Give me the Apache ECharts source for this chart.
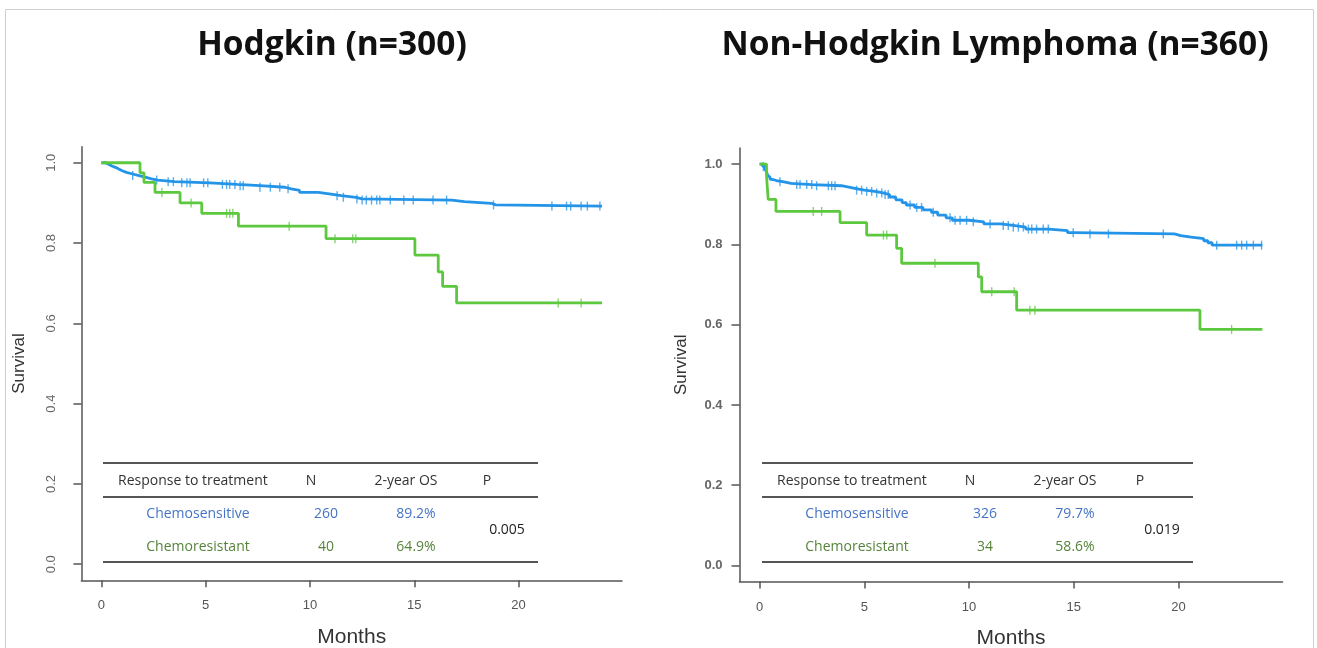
<!DOCTYPE html>
<html>
<head>
<meta charset="utf-8">
<script src="https://cdn.jsdelivr.net/npm/echarts@6/dist/echarts.min.js"></script>
<style>
html,body{margin:0;padding:0;background:#fff;}
#chart{width:1317px;height:648px;}
</style>
</head>
<body>
<div id="chart"></div>
<script>
// ---------- Data ----------
const xTicks = [0, 5, 10, 15, 20];
const yTicks = [0, 0.2, 0.4, 0.6, 0.8, 1.0];
const followUpEnd = 24;

// Hodgkin – chemosensitive (step times / survival after each drop)
const hlSensTime = [0, 0.2, 0.35, 0.5, 0.7, 0.85, 1.0, 1.2, 1.5, 1.8, 2.1, 2.4, 2.7, 3.5, 5.2, 6.5, 7.6, 8.8, 9.1, 9.5, 10.4, 11.0, 11.5, 12.2, 12.5, 16.8, 17.4, 18.7, 18.9];
const hlSensSurv = [1.0, 0.996, 0.992, 0.988, 0.984, 0.980, 0.976, 0.972, 0.968, 0.964, 0.960, 0.957, 0.953, 0.950, 0.946, 0.943, 0.939, 0.935, 0.931, 0.926, 0.922, 0.918, 0.914, 0.910, 0.907, 0.903, 0.899, 0.895, 0.892];
const hlSensCensor = [1.5, 2.65, 3.2, 3.45, 3.85, 4.1, 4.25, 4.9, 5.1, 5.8, 6.0, 6.15, 6.4, 6.65, 6.8, 7.6, 8.1, 8.55, 8.95, 11.3, 11.6, 12.25, 12.5, 12.7, 12.95, 13.2, 13.35, 13.85, 14.5, 14.95, 15.9, 16.55, 18.8, 21.6, 22.3, 22.5, 23.0, 23.3, 23.9];

// Hodgkin – chemoresistant
const hlResTime = [0, 1.85, 2.04, 2.57, 3.77, 4.81, 6.57, 10.77, 15.03, 16.15, 16.36, 17.03];
const hlResSurv = [1.0, 0.975, 0.951, 0.926, 0.900, 0.874, 0.842, 0.811, 0.770, 0.728, 0.692, 0.651];
const hlResCensor = [2.9, 4.3, 6.0, 6.15, 6.3, 9.0, 11.2, 12.05, 12.2, 21.9, 23.0];

// Non-Hodgkin – chemosensitive
const nhlSensTime = [0, 0.15, 0.25, 0.3, 0.35, 0.4, 0.45, 0.5, 0.6, 0.8, 1.1, 1.5, 2.5, 3.9, 4.2, 4.6, 5.0, 5.5, 5.9, 6.2, 6.5, 6.8, 7.0, 7.4, 7.8, 8.2, 8.5, 8.9, 9.2, 10.0, 10.7, 11.5, 12.1, 12.7, 13.8, 14.7, 15.0, 19.8, 20.1, 20.6, 21.2, 21.4, 21.6];
const nhlSensSurv = [1.0, 0.994, 0.989, 0.983, 0.977, 0.971, 0.967, 0.962, 0.959, 0.956, 0.952, 0.949, 0.946, 0.943, 0.939, 0.935, 0.932, 0.928, 0.924, 0.918, 0.911, 0.904, 0.898, 0.892, 0.886, 0.880, 0.873, 0.866, 0.860, 0.856, 0.851, 0.847, 0.843, 0.838, 0.834, 0.829, 0.826, 0.822, 0.818, 0.814, 0.809, 0.804, 0.798];
const nhlSensCensor = [0.18, 0.97, 1.77, 1.93, 2.25, 2.49, 2.72, 3.28, 3.44, 3.6, 4.63, 4.87, 5.11, 5.35, 5.59, 5.83, 5.99, 6.14, 7.18, 7.5, 7.73, 8.29, 9.09, 9.33, 9.57, 9.88, 10.2, 11.0, 11.63, 11.87, 12.11, 12.35, 12.59, 12.83, 12.99, 13.22, 13.54, 13.78, 14.97, 15.77, 16.65, 19.27, 21.82, 22.77, 23.01, 23.25, 23.57, 23.96];

// Non-Hodgkin – chemoresistant
const nhlResTime = [0, 0.33, 0.37, 0.41, 0.78, 3.84, 5.11, 6.54, 6.78, 10.44, 10.6, 12.27, 21.02];
const nhlResSurv = [1.0, 0.971, 0.941, 0.912, 0.882, 0.854, 0.823, 0.790, 0.753, 0.719, 0.682, 0.636, 0.588];
const nhlResCensor = [2.56, 2.96, 5.91, 6.07, 8.37, 11.08, 12.15, 12.9, 13.14, 22.53];

// Titles & table text
const panelTitles = ['Hodgkin (n=300)', 'Non-Hodgkin Lymphoma (n=360)'];
const tableHeaders = ['Response to treatment', 'N', '2-year OS', 'P'];
const groupNames = ['Chemosensitive', 'Chemoresistant'];
const hlN = ['260', '40'];
const hlOS = ['89.2%', '64.9%'];
const hlP = '0.005';
const nhlN = ['326', '34'];
const nhlOS = ['79.7%', '58.6%'];
const nhlP = '0.019';

// ---------- Styling ----------
const BLUE = '#2394e8';
const GREEN = '#5cc83e';
const TXT_BLUE = '#4574c6';
const TXT_GREEN = '#55843a';
const AXIS = '#555';

function stepData(times, survs) {
  const d = times.map((t, i) => [t, survs[i]]);
  d.push([followUpEnd, survs[survs.length - 1]]);
  return d;
}
function survAt(times, survs, t) {
  let s = survs[0];
  for (let i = 0; i < times.length; i++) if (times[i] <= t) s = survs[i];
  return s;
}
function censorData(times, survs, cens) {
  return cens.map(t => [t, survAt(times, survs, t)]);
}

const grids = [
  {left: 81.4, top: 146.7, width: 540.6, height: 433.6, outerBoundsMode: 'none', containLabel: false},
  {left: 739.5, top: 148, width: 543, height: 433.6, outerBoundsMode: 'none', containLabel: false}
];

function xAxisCfg(gi) {
  return {
    gridIndex: gi, type: 'value', min: -0.96, max: 24.96,
    name: 'Months', nameLocation: 'middle', nameGap: 46,
    nameTextStyle: {fontFamily: 'Liberation Sans', fontSize: 21, color: '#333'},
    axisLine: {show: true, onZero: false, lineStyle: {color: AXIS, width: 1.5}},
    axisTick: {show: true, customValues: xTicks, length: 7, lineStyle: {color: AXIS, width: 1.5}},
    axisLabel: {customValues: xTicks, margin: 19, fontFamily: 'Liberation Sans', fontSize: 13, color: '#555'},
    splitLine: {show: false}
  };
}
function yAxisCfg(gi, rotate) {
  return {
    gridIndex: gi, type: 'value', min: -0.04, max: 1.04,
    name: 'Survival', nameLocation: 'middle', nameGap: rotate ? 54 : 50,
    nameTextStyle: {fontFamily: 'Liberation Sans', fontSize: 17, color: '#333'},
    axisLine: {show: true, onZero: false, lineStyle: {color: AXIS, width: 1.5}},
    axisTick: {show: true, customValues: yTicks, length: 8, lineStyle: {color: AXIS, width: 1.5}},
    axisLabel: {customValues: yTicks, rotate: rotate ? 90 : 0, margin: rotate ? 23 : 17,
      formatter: v => v.toFixed(1), fontFamily: 'Liberation Sans', fontSize: 13,
      fontWeight: rotate ? 'normal' : 'bold', color: '#666'},
    splitLine: {show: false}
  };
}
function lineSeries(gi, times, survs, color) {
  return {type: 'line', xAxisIndex: gi, yAxisIndex: gi, step: 'end', symbol: 'none',
    data: stepData(times, survs), lineStyle: {color: color, width: 2.8}, silent: true};
}
function censorSeries(gi, times, survs, cens, color) {
  return {type: 'scatter', xAxisIndex: gi, yAxisIndex: gi, symbol: 'rect', symbolSize: [1.4, 9],
    data: censorData(times, survs, cens), itemStyle: {color: color, opacity: 0.75}, silent: true};
}

// ---------- Table graphics ----------
function buildTable(x0, x1, cols, nVals, osVals, pVal) {
  const els = [];
  const lineY = [463, 497, 562];
  lineY.forEach(y => els.push({type: 'line', shape: {x1: x0, y1: y, x2: x1, y2: y},
    style: {stroke: '#555', lineWidth: 2}}));
  const font = {fontFamily: 'Open Sans', fontSize: 14};
  const hdrY = 481, rowY = [514, 547], pY = 530;
  els.push({type: 'text', x: cols.resp, y: hdrY, style: Object.assign({text: tableHeaders[0], fill: '#333', align: 'left', verticalAlign: 'middle'}, font)});
  els.push({type: 'text', x: cols.n, y: hdrY, style: Object.assign({text: tableHeaders[1], fill: '#333', align: 'center', verticalAlign: 'middle'}, font)});
  els.push({type: 'text', x: cols.os, y: hdrY, style: Object.assign({text: tableHeaders[2], fill: '#333', align: 'center', verticalAlign: 'middle'}, font)});
  els.push({type: 'text', x: cols.p, y: hdrY, style: Object.assign({text: tableHeaders[3], fill: '#333', align: 'center', verticalAlign: 'middle'}, font)});
  const colors = [TXT_BLUE, TXT_GREEN];
  for (let r = 0; r < 2; r++) {
    els.push({type: 'text', x: cols.grp, y: rowY[r], style: Object.assign({text: groupNames[r], fill: colors[r], align: 'center', verticalAlign: 'middle'}, font)});
    els.push({type: 'text', x: cols.nv, y: rowY[r], style: Object.assign({text: nVals[r], fill: colors[r], align: 'center', verticalAlign: 'middle'}, font)});
    els.push({type: 'text', x: cols.osv, y: rowY[r], style: Object.assign({text: osVals[r], fill: colors[r], align: 'center', verticalAlign: 'middle'}, font)});
  }
  els.push({type: 'text', x: cols.pv, y: pY, style: Object.assign({text: pVal, fill: '#222', align: 'center', verticalAlign: 'middle'}, font)});
  return els;
}

const graphics = [
  {type: 'rect', shape: {x: 5.5, y: 9.5, width: 1308, height: 660}, style: {fill: 'none', stroke: '#cfcfcf', lineWidth: 1}, silent: true},
  {type: 'text', x: 332, y: 45, style: {text: panelTitles[0], fontFamily: 'Open Sans', fontWeight: 'bold', fontSize: 33.5, fill: '#111', align: 'center', verticalAlign: 'middle'}},
  {type: 'text', x: 995, y: 45, style: {text: panelTitles[1], fontFamily: 'Open Sans', fontWeight: 'bold', fontSize: 33.5, fill: '#111', align: 'center', verticalAlign: 'middle'}}
].concat(
  buildTable(103, 538, {resp: 118, n: 311, os: 406, p: 487, grp: 198, nv: 326, osv: 416, pv: 507}, hlN, hlOS, hlP),
  buildTable(762, 1193, {resp: 777, n: 970, os: 1065, p: 1140, grp: 857, nv: 985, osv: 1075, pv: 1162}, nhlN, nhlOS, nhlP)
);

const chart = echarts.init(document.getElementById('chart'), null, {renderer: 'canvas'});
chart.setOption({
  animation: false,
  backgroundColor: '#fff',
  grid: grids,
  xAxis: [xAxisCfg(0), xAxisCfg(1)],
  yAxis: [yAxisCfg(0, true), yAxisCfg(1, false)],
  series: [
    lineSeries(0, hlSensTime, hlSensSurv, BLUE),
    censorSeries(0, hlSensTime, hlSensSurv, hlSensCensor, BLUE),
    lineSeries(0, hlResTime, hlResSurv, GREEN),
    censorSeries(0, hlResTime, hlResSurv, hlResCensor, GREEN),
    lineSeries(1, nhlSensTime, nhlSensSurv, BLUE),
    censorSeries(1, nhlSensTime, nhlSensSurv, nhlSensCensor, BLUE),
    lineSeries(1, nhlResTime, nhlResSurv, GREEN),
    censorSeries(1, nhlResTime, nhlResSurv, nhlResCensor, GREEN)
  ],
  graphic: graphics
});
</script>
</body>
</html>
